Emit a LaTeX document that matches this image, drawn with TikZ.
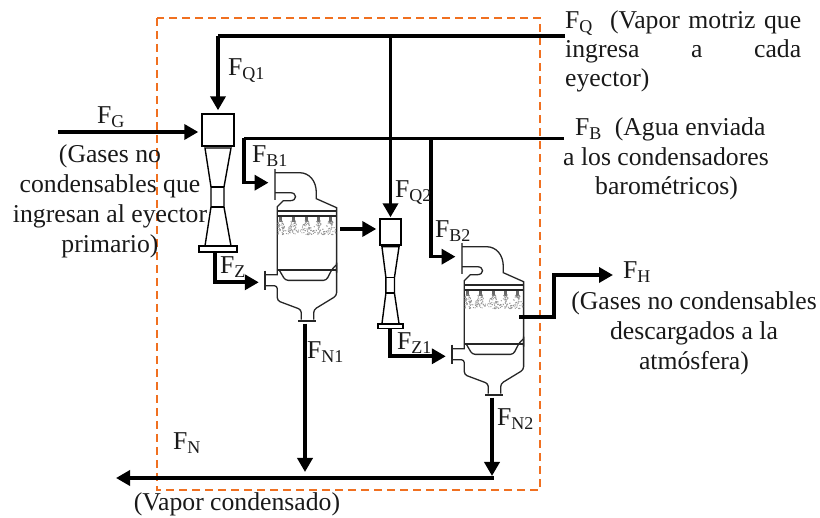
\documentclass[tikz,border=0pt]{standalone}
\usepackage{fontspec}
\setmainfont{Liberation Serif}
\usepackage{xcolor}
\usetikzlibrary{positioning,arrows.meta,calc}
\definecolor{limitline}{HTML}{F07020}
\newcommand{\flowname}[1]{F\textsubscript{#1}}

\begin{document}
\begin{tikzpicture}[x=1pt,y=-1pt,every node/.style={font=\fontsize{25.7}{30}\selectfont, text=black!90},
  pipe/.style={line width=3.6pt},
  flow/.style={line width=3.6pt, shorten >=3pt, -{Triangle[length=14pt,width=15pt]}},
  limit/.style={draw=limitline, line width=1.5pt, dash pattern=on 8pt off 5pt},
  part/.style={draw=black!85, line width=1.3pt},
  ejbox/.style={draw=black, line width=1.4pt, fill=white},
  label/.style={inner sep=0pt, anchor=base west},
  block/.style={inner sep=0pt, align=center},
  diffuser/.pic={
    \draw[ejbox] (-13,2) -- (-7,41) -- (-7,61) -- (-13,100) -- (13,100) -- (6,61) -- (6,41) -- (13,2) -- cycle;
    \draw[ejbox] (-7,41) -- (6,41) (-7,61) -- (6,61);
    \draw[ejbox] (-19,100) rectangle (19,106);
    \coordinate (-out) at (-3,106);
  },
  condenser/.pic={
    % inlet and shell
    \draw[part, black!60] (-2.3,-44) -- (-2.3,-13);
    \draw[part] (-2.3,-40) -- (22,-40) .. controls (32,-40) and (39,-32) .. (39,-20)
      -- (39,-14) -- (59.3,-5) -- (59.3,60);
    \draw[part, rounded corners=3pt] (59.3,50) -- (59.3,83) -- (36.4,97) -- (36.4,107);
    \draw[part] (-2.3,-20) -- (13,-20) .. controls (20,-20) and (20,-12) .. (13,-12)
      -- (6,-12) -- (0,-6) -- (0,62) -- (-12,62);
    \draw[part, rounded corners=3pt] (-12,73) -- (0,73) -- (0,88) -- (24,97) -- (24,107);
    \draw[part, line width=1.8pt] (-12.3,58) -- (-12.3,77);
    \draw[part, line width=1.8pt] (21,108) -- (39,108);
    % trays
    \draw[part, line width=1.6pt] (0,-1.4) -- (59.3,-1.4) (0,3.3) -- (59.3,3.3);
    \draw[part] (0,57.3) -- (59.3,57.3);
    \draw[part, rounded corners=3pt] (2.3,58) -- (8,67.7) -- (49,67.7) -- (55,56) -- (59.3,52);
    % spray
    \pgfmathsetseed{41}
    \foreach \nz in {3,16,29,41,53} {
      \fill[black!60] (\nz-1.3,4) rectangle (\nz+1.3,9);
      \foreach \dt in {1,...,55} {
        \pgfmathsetmacro{\dp}{rnd*14}
        \fill[black!45] ({max(0.8,min(58.5,\nz+(rnd-0.5)*(4+0.75*\dp)))},{8+\dp}) circle (0.6pt);
      }
    }
    \coordinate (-in) at (-5.8,-30);
    \coordinate (-gas) at (-15.5,69.6);
    \coordinate (-drain) at (27.7,111);
    \coordinate (-vent) at (55,30.2);
  }]
  \useasboundingbox (0,0) rectangle (820,518);

  \draw[limit] (157,18) rectangle (540,490);

  % first ejector and condenser
  \node[ejbox, minimum width=32pt, minimum height=32pt, inner sep=0pt] (ejA) at (218,130) {};
  \pic (ejAbody) at (218,146) {diffuser};
  \pic (condA) at (277.3,212.7) {condenser};

  % second ejector and condenser
  \node[ejbox, minimum width=21pt, minimum height=26pt, inner sep=0pt] (ejB) at (390.5,232) {};
  \pic[xscale=0.66, yscale=0.79] (ejBbody) at (390.5,245) {diffuser};
  \pic (condB) at (464.3,286.7) {condenser};

  % free ends and junctions
  \coordinate (qin) at (565,36);
  \coordinate (qa) at (ejA.north |- qin);
  \coordinate (qb) at (ejB.north |- qin);
  \coordinate (gin) at (58,132);
  \coordinate (bin) at (564,138.5);
  \coordinate (ba) at (244,138.5);
  \coordinate (bb) at (431,138.5);
  \coordinate (hturn) at (554,275);
  \coordinate (hout) at (616,275);
  \coordinate (oa) at (340,229);
  \coordinate (nb) at (condB-drain |- 0,478);
  \coordinate (na) at (condA-drain |- 0,478);
  \coordinate (nout) at (113,478);

  % steam and water lines
  \draw[pipe] (qin) -- (qa);
  \draw[flow] (qa) -- (ejA.north);
  \draw[flow, shorten >=1pt] (qb) -- (ejB.north);
  \draw[flow] (gin) -- (gin -| ejA.west);
  \draw[pipe] (bin) -- (ba);
  \draw[flow] (ba) |- (condA-in);
  \draw[flow] (bb) |- (condB-in);

  % ejector discharge
  \draw[flow] (ejAbody-out) |- (condA-gas);
  \draw[flow] ($(ejBbody-out)+(1.5,0)$) |- (condB-gas);
  \draw[flow] (oa) -- (oa -| ejB.west);
  \draw[flow] (condB-vent) -| (hturn) -- (hout);

  % condensate
  \draw[flow, shorten >=6pt] (condA-drain) -- (na);
  \draw[flow, shorten >=2pt] (condB-drain) -- (nb);
  \draw[flow] ($(nb)+(1.8,0)$) -- (nout);

  % labels
  \node[label] (lq) at (565,29) {\makebox[236pt][s]{\flowname{Q}\ \ (Vapor motriz que}};
  \node[label] (lqb) at (565,58) {\makebox[236pt][s]{ingresa a cada}};
  \node[label] (lqc) at (565,87) {eyector)};
  \node[label] (lqa) at (228,76) {\flowname{Q1}};
  \node[label] (lqd) at (395,198) {\flowname{Q2}};
  \node[label] (lg) at (97,124) {\flowname{G}};
  \node[block] (tg) at (110,201.5) {(Gases no\\condensables que\\ingresan al eyector\\primario)};
  \node[label] (lb) at (575,136) {\flowname{B}\ \ (Agua enviada};
  \node[label] (tb) at (563,166) {a los condensadores};
  \node[label] (tc) at (595,195) {barométricos)};
  \node[label] (lba) at (252,163) {\flowname{B1}};
  \node[label] (lbb) at (435,238) {\flowname{B2}};
  \node[label] (lz) at (220,274) {\flowname{Z}};
  \node[label] (lza) at (397,350) {\flowname{Z1}};
  \node[label] (lh) at (623,279) {\flowname{H}};
  \node[block] (th) at (694,333) {(Gases no condensables\\descargados a la\\atmósfera)};
  \node[label] (lna) at (307,359) {\flowname{N1}};
  \node[label] (lnb) at (497,426) {\flowname{N2}};
  \node[label] (ln) at (173,450) {\flowname{N}};
  \node[block] (tn) at (237,504) {(Vapor condensado)};
\end{tikzpicture}
\end{document}
